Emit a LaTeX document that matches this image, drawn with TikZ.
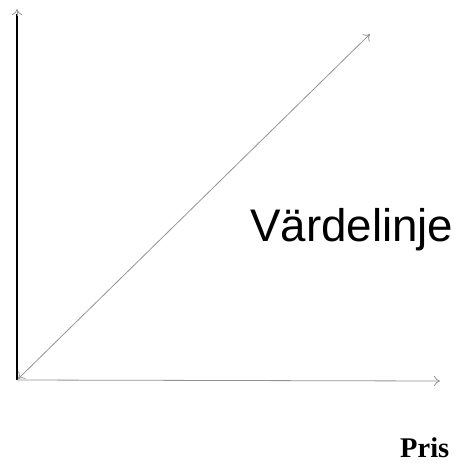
\documentclass[tikz,border=0pt]{standalone}
\usepackage{fontspec}
\setmainfont{Liberation Serif}
\newfontfamily\arialfont{Liberation Sans}
\usetikzlibrary{arrows.meta}
\begin{document}
\begin{tikzpicture}[x=1bp,y=-1bp,
  axis/.style={draw=gray!85, line width=0.8bp, -{To[length=6bp,width=10bp]}},
  yaxis/.style={draw=black, line width=1.2bp},
  tipgray/.style={draw=gray!85, line width=0.8bp, -{To[length=6bp,width=10bp]}}]
\useasboundingbox (0,0) rectangle (463,463);
\coordinate (o) at (17,380);
\coordinate (ytop) at (17,9);
\coordinate (xend) at (440,381);
\coordinate (dend) at (370,34);
\draw[yaxis] (o) -- (17,14);
\draw[tipgray] (17,16) -- (ytop);
\draw[axis] (o) -- (xend);
\draw[draw=gray!85, line width=0.8bp, {To[length=6bp,width=10bp]}-{To[length=6bp,width=10bp]}] (18,379) -- (dend);
\node[anchor=base west, inner sep=0, font=\arialfont\fontsize{45.7bp}{50bp}\selectfont] (lbl) at (250,241) {Värdelinje};
\node[anchor=base west, inner sep=0, font=\bfseries\fontsize{28.5bp}{32bp}\selectfont] (pris) at (400,457) {Pris};
\end{tikzpicture}
\end{document}
